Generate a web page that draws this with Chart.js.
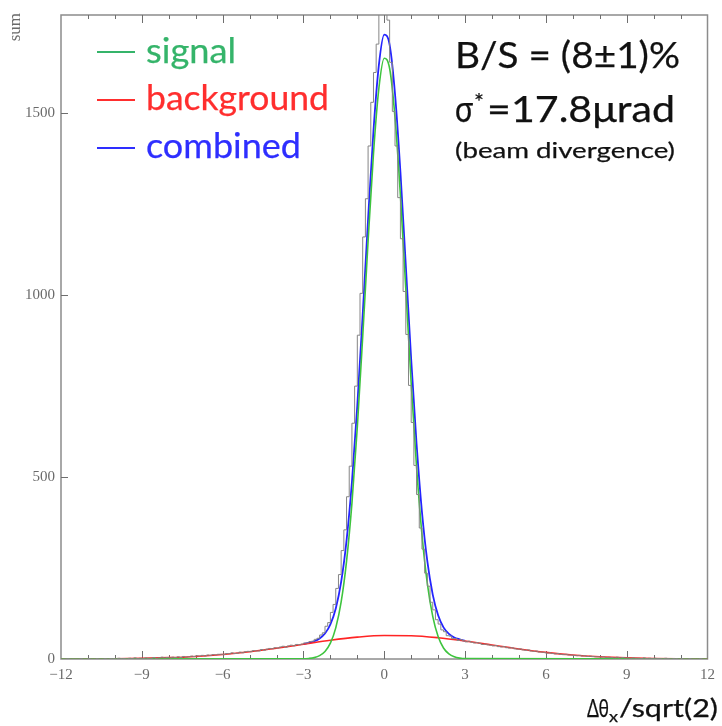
<!DOCTYPE html>
<html>
<head>
<meta charset="utf-8">
<script src="https://cdn.jsdelivr.net/npm/chart.js@4.4.0/dist/chart.umd.min.js"></script>
<style>
html, body { margin: 0; padding: 0; background: #fff; }
</style>
</head>
<body>
<canvas id="chart" width="722" height="726"></canvas>
<script>
// histogram: 240 bins of 0.1 from -12 to 12
const binStart = -12;
const binWidth = 0.1;
const histCounts = [
    // -12 .. -3
    0, 0, 0, 1, 0, 0, 0, 0, 1, 0,
    0, 1, 0, 0, 1, 0, 0, 1, 0, 1,
    1, 0, 2, 1, 1, 0, 2, 1, 3, 1,
    2, 1, 3, 2, 2, 4, 2, 3, 5, 3,
    4, 3, 5, 4, 6, 4, 7, 5, 6, 8,
    7, 9, 8, 10, 8, 11, 10, 12, 11, 13,
    13, 12, 15, 14, 17, 15, 16, 19, 17, 20,
    21, 20, 23, 22, 22, 26, 24, 27, 29, 28,
    31, 30, 33, 35, 32, 36, 38, 36, 40, 39,
    // -3 .. 3
    41, 44, 44, 48, 49, 54, 57, 66, 72, 90,
    100, 128, 150, 194, 232, 298, 355, 446, 530, 648,
    750, 890, 1005, 1160, 1265, 1410, 1530, 1612, 1690, 1800,
    1790, 1805, 1756, 1640, 1505, 1410, 1268, 1155, 1010, 892,
    752, 650, 532, 452, 360, 302, 236, 200, 156, 135,
    108, 96, 80, 75, 64, 63, 56, 56, 51, 53,
    // 3 .. 12
    50, 47, 49, 46, 44, 45, 43, 40, 41, 39,
    38, 36, 37, 34, 33, 34, 31, 30, 31, 28,
    27, 28, 25, 24, 25, 22, 21, 22, 19, 19,
    18, 16, 17, 15, 14, 15, 13, 12, 13, 11,
    11, 10, 9, 10, 8, 9, 7, 8, 7, 6,
    6, 5, 6, 4, 5, 4, 3, 5, 3, 4,
    3, 3, 2, 3, 2, 2, 1, 3, 1, 2,
    1, 2, 1, 1, 0, 2, 1, 0, 1, 1,
    0, 1, 0, 0, 1, 0, 0, 0, 1, 0
];

// fit curves
const sigX = [-12, -3.0, -2.8, -2.6, -2.4, -2.2, -2.0, -1.8, -1.6, -1.4, -1.2, -1.0, -0.8, -0.6, -0.4, -0.2,
    0.0, 0.2, 0.4, 0.6, 0.8, 1.0, 1.2, 1.4, 1.6, 1.8, 2.0, 2.2, 2.4, 2.6, 2.8, 3.0, 12];
const sigY = [0, 0.5, 1.5, 3.8, 9.2, 20.7, 43.6, 85.6, 156.7, 268.5, 427.8, 637, 886, 1148, 1389, 1568,
    1651, 1623, 1488, 1274, 1017, 758, 527, 342, 207, 117, 61.6, 30.3, 13.9, 6, 2.4, 0.9, 0];

const bgX = [-12, -11, -10, -9, -8, -7, -6, -5, -4, -3, -2, -1, 0, 1, 2, 3, 4, 5, 6, 7, 8, 9, 10, 11, 12];
const bgY = [0.1, 0.3, 0.8, 1.8, 3.7, 7.0, 12.2, 19.8, 29.5, 40.5, 51.4, 60.0, 64.6, 64.1, 58.6, 49.3,
    38.3, 27.4, 18.1, 11.0, 6.2, 3.2, 1.5, 0.7, 0.3];

const combX = [-3.0, -2.8, -2.6, -2.4, -2.2, -2.0, -1.8, -1.6, -1.4, -1.2, -1.0, -0.8, -0.6, -0.4, -0.2,
    0.0, 0.2, 0.4, 0.6, 0.8, 1.0, 1.2, 1.4, 1.6, 1.8, 2.0, 2.2, 2.4, 2.6, 2.8, 3.0];
const combY = [41.0, 44.3, 48.8, 56.4, 70.0, 95.0, 138.9, 211.9, 325.5, 486.4, 697, 947, 1210, 1452, 1632,
    1716, 1688, 1553, 1339, 1082, 823, 591, 404, 268, 177, 120, 87, 69, 59, 54, 50];

const xMin = -12, xMax = 12;
const yMin = 0, yMax = 1770;
const xTicks = [-12, -9, -6, -3, 0, 3, 6, 9, 12];
const yTicks = [0, 500, 1000, 1500];

const greenLine = "#3ec43e";
const redLine = "#ff2424";
const blueLine = "#2424ff";

function pairs(xs, ys) {
    return xs.map((x, i) => ({ x: x, y: ys[i] }));
}

const histPoints = histCounts.map((c, i) => ({ x: Math.round((binStart + i * binWidth) * 100) / 100, y: c }));
histPoints.push({ x: xMax, y: histCounts[histCounts.length - 1] });

const tickFont = { family: "'Liberation Serif', 'DejaVu Serif', serif", size: 15 };

// draws text squeezed/stretched to a given width, with a faint outline to thicken it a little
function fitText(ctx, text, x, baseline, width, font, color) {
    ctx.font = font;
    const w = ctx.measureText(text).width;
    ctx.save();
    ctx.translate(x, baseline);
    ctx.scale(width / w, 1);
    ctx.fillStyle = color;
    ctx.strokeStyle = color;
    ctx.lineWidth = 0.25;
    ctx.textAlign = "left";
    ctx.textBaseline = "alphabetic";
    ctx.fillText(text, 0, 0);
    ctx.strokeText(text, 0, 0);
    ctx.restore();
}

const frame = {
    id: "frame",
    beforeDatasetsDraw(chart) {
        const { ctx, chartArea: a, scales: { x, y } } = chart;
        ctx.save();
        ctx.strokeStyle = "#8c8c8c";
        ctx.lineWidth = 1.5;
        ctx.strokeRect(a.left, a.top, a.right - a.left, a.bottom - a.top);
        ctx.lineWidth = 1;
        ctx.strokeStyle = "#6e6e6e";
        ctx.beginPath();
        for (let v = xMin + 1; v < xMax; v++) {
            const px = Math.round(x.getPixelForValue(v)) + 0.5;
            const len = v % 3 === 0 ? 8 : 4;
            ctx.moveTo(px, a.bottom);
            ctx.lineTo(px, a.bottom - len);
            ctx.moveTo(px, a.top);
            ctx.lineTo(px, a.top + len);
        }
        yTicks.forEach(v => {
            if (v === 0) return;
            const py = Math.round(y.getPixelForValue(v)) + 0.5;
            ctx.moveTo(a.left, py);
            ctx.lineTo(a.left + 7, py);
        });
        ctx.stroke();
        ctx.restore();
    },
    afterDraw(chart) {
        const { ctx } = chart;
        ctx.save();
        // y title
        ctx.save();
        ctx.translate(20, 13);
        ctx.rotate(-Math.PI / 2);
        ctx.font = "17px 'Liberation Serif', serif";
        ctx.fillStyle = "#6a6a6a";
        ctx.textAlign = "right";
        ctx.textBaseline = "alphabetic";
        ctx.fillText("sum", 0, 0);
        ctx.restore();

        // legend
        const legend = [
            { text: "signal", color: "#35b46a", y: 52, base: 63, w: 90 },
            { text: "background", color: "#ff2e2e", y: 100, base: 110, w: 183 },
            { text: "combined", color: "#2e2eff", y: 148, base: 158, w: 155 }
        ];
        legend.forEach(item => {
            ctx.strokeStyle = item.color;
            ctx.lineWidth = 2;
            ctx.beginPath();
            ctx.moveTo(97, item.y);
            ctx.lineTo(135, item.y);
            ctx.stroke();
            fitText(ctx, item.text, 146, item.base, item.w, "35px Lato, sans-serif", item.color);
        });

        // annotation
        fitText(ctx, "B/S = (8\u00b11)%", 455, 68, 225, "37px Lato, sans-serif", "#111");
        fitText(ctx, "\u03c3", 455, 122, 18, "37px Lato, sans-serif", "#111");
        fitText(ctx, "*", 474, 110, 10, "24px Lato, sans-serif", "#111");
        fitText(ctx, "=17.8\u03bcrad", 487, 122, 188, "37px Lato, sans-serif", "#111");
        fitText(ctx, "(beam divergence)", 455, 158, 220, "22px Lato, sans-serif", "#111");

        // x title
        fitText(ctx, "\u0394\u03b8", 587, 717, 22, "25px Lato, sans-serif", "#111");
        fitText(ctx, "x", 609, 722, 9, "15px Lato, sans-serif", "#111");
        fitText(ctx, "/sqrt(2)", 619, 717, 99, "25px Lato, sans-serif", "#111");
        ctx.restore();
    }
};

const chart = new Chart(document.getElementById("chart"), {
    type: "line",
    data: {
        datasets: [
            {
                label: "data",
                data: histPoints,
                stepped: "after",
                borderColor: "#858585",
                borderWidth: 1,
                pointRadius: 0
            },
            {
                label: "signal",
                data: pairs(sigX, sigY),
                borderColor: greenLine,
                borderWidth: 1.6,
                pointRadius: 0,
                cubicInterpolationMode: "monotone"
            },
            {
                label: "background",
                data: pairs(bgX, bgY),
                borderColor: redLine,
                borderWidth: 1.6,
                pointRadius: 0,
                cubicInterpolationMode: "monotone"
            },
            {
                label: "combined",
                data: pairs(combX, combY),
                borderColor: blueLine,
                borderWidth: 1.8,
                pointRadius: 0,
                cubicInterpolationMode: "monotone"
            }
        ]
    },
    options: {
        responsive: false,
        animation: false,
        parsing: false,
        layout: { padding: { top: 10, right: 14, left: 0, bottom: 0 } },
        plugins: {
            legend: { display: false },
            tooltip: { enabled: false }
        },
        scales: {
            x: {
                type: "linear",
                min: xMin,
                max: xMax,
                border: { display: false },
                grid: { display: false, drawTicks: false },
                ticks: {
                    padding: 7,
                    color: "#6a6a6a",
                    font: tickFont,
                    maxRotation: 0,
                    autoSkip: false,
                    callback: v => (v < 0 ? "\u2212" + Math.abs(v) : String(v))
                },
                afterBuildTicks(scale) { scale.ticks = xTicks.map(v => ({ value: v })); },
                afterFit(scale) { scale.height = 67; }
            },
            y: {
                type: "linear",
                min: yMin,
                max: yMax,
                border: { display: false },
                grid: { display: false, drawTicks: false },
                ticks: {
                    padding: 6,
                    color: "#6a6a6a",
                    font: tickFont,
                    autoSkip: false,
                    callback: v => String(v)
                },
                afterBuildTicks(scale) { scale.ticks = yTicks.map(v => ({ value: v })); },
                afterFit(scale) { scale.width = 61; }
            }
        }
    },
    plugins: [frame]
});
</script>
</body>
</html>
